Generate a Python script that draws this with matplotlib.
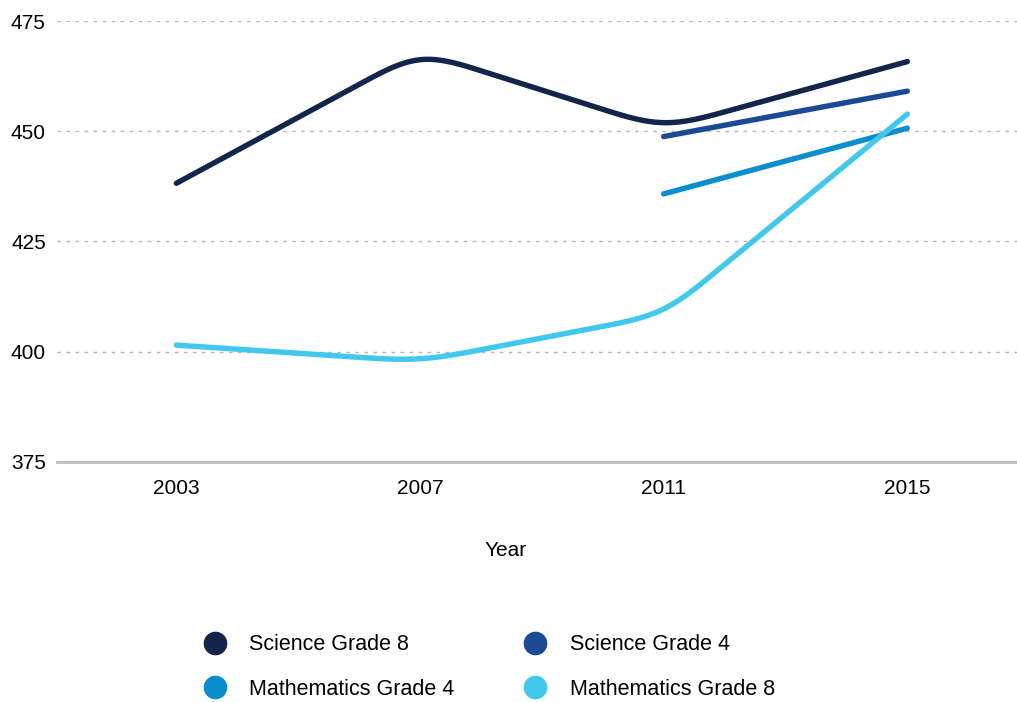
import numpy as np
import matplotlib.pyplot as plt
from matplotlib.lines import Line2D

plt.rcParams['font.family'] = ['Liberation Sans', 'DejaVu Sans']

years = ['2003', '2007', '2011', '2015']
science_g8 = [438.2, 468.1, 450.6, 465.8]
science_g4 = [None, None, 448.8, 459.1]
math_g4 = [None, None, 435.8, 450.7]
math_g8 = [401.5, 397.8, 408.4, 453.9]

series_names = ['Science Grade 8', 'Science Grade 4', 'Mathematics Grade 4', 'Mathematics Grade 8']
colors = ['#13254a', '#1a4a96', '#0b8ecf', '#42c8ec']


def rounded(ax, xs, ys, r=58, n=40):
    # polyline with rounded corners, built in pixel space then mapped back
    pts = ax.transData.transform(np.column_stack([xs, ys]))
    out = [pts[0]]
    t = np.linspace(0, 1, n)[:, None]
    for i in range(1, len(pts) - 1):
        v = pts[i]
        a, b = pts[i - 1], pts[i + 1]
        da = np.linalg.norm(a - v)
        db = np.linalg.norm(b - v)
        ra = min(r, da / 2)
        rb = min(r, db / 2)
        p0 = v + (a - v) * ra / da
        p3 = v + (b - v) * rb / db
        c1 = p0 + (v - p0) * 0.85
        c2 = p3 + (v - p3) * 0.85
        seg = (1 - t)**3 * p0 + 3 * (1 - t)**2 * t * c1 + 3 * (1 - t) * t**2 * c2 + t**3 * p3
        out.extend(seg)
    out.append(pts[-1])
    out = ax.transData.inverted().transform(np.array(out))
    return out[:, 0], out[:, 1]


fig = plt.figure(figsize=(10.17, 7.02), dpi=100)
ax = fig.add_axes([0.056, 0.342, 0.944, 0.628])
ax.set_xlim(-0.49, 3.45)
ax.set_ylim(375, 475)

x = np.arange(len(years))
for vals, color in zip([science_g8, science_g4, math_g4, math_g8], colors):
    pts = [(xi, v) for xi, v in zip(x, vals) if v is not None]
    xs, ys = zip(*pts)
    px, py = rounded(ax, xs, ys)
    ax.plot(px, py, color=color, lw=3.9, solid_capstyle='round', solid_joinstyle='round', zorder=3)

ax.set_yticks([375, 400, 425, 450, 475])
ax.set_xticks(x)
ax.set_xticklabels(years)
for yv in [400, 425, 450, 475]:
    ax.axhline(yv, color='#b3b3b3', lw=1, ls=(0, (2.5, 4)), zorder=1)
ax.axhline(375, color='#bdbdbd', lw=2, zorder=2, clip_on=False)

for s in ax.spines.values():
    s.set_visible(False)
ax.tick_params(length=0, labelsize=15, colors='black')
ax.tick_params(axis='y', pad=8)
ax.tick_params(axis='x', pad=12)
ax.set_xlabel('Year', fontsize=15, labelpad=31)
ax.xaxis.label.set_position((0.467, 0))

order = [0, 2, 1, 3]
handles = [Line2D([], [], ls='none', marker='o', ms=16, color=colors[i]) for i in order]
labels = [series_names[i] for i in order]
fig.legend(handles, labels, ncol=2, loc='center', bbox_to_anchor=(0.476, 0.050),
           frameon=False, fontsize=15.5, handletextpad=0.61, columnspacing=2.74,
           labelspacing=1.1)

fig.savefig('out.png', dpi=100)
